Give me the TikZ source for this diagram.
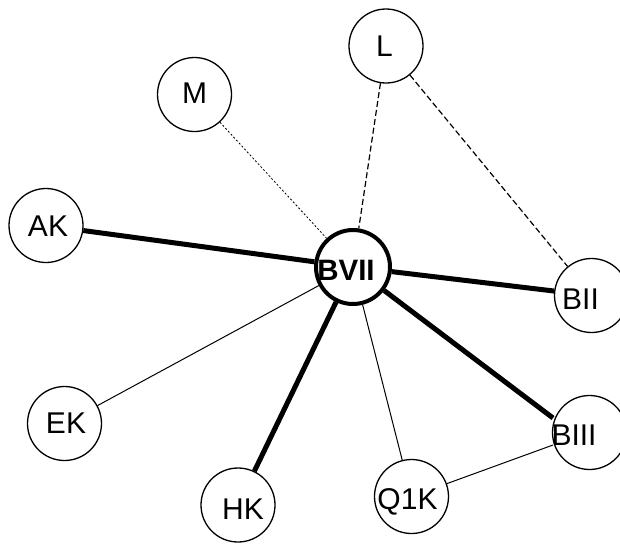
\documentclass[tikz,border=0pt]{standalone}
\usepackage{fontspec}
\setmainfont{Liberation Sans}
\begin{document}
\begin{tikzpicture}[x=1pt,y=-1pt,
  vtx/.style={circle,draw,line width=1.3pt,minimum size=74pt,inner sep=0pt},
  hub/.style={circle,draw,line width=4pt,minimum size=74pt,inner sep=0pt},
  lbl/.style={anchor=base,inner sep=0pt,font=\fontsize{30}{32}\selectfont},
  hublbl/.style={anchor=base,inner sep=0pt,font=\fontsize{29.5}{32}\selectfont\bfseries},
  heavy/.style={line width=5pt},
  light/.style={line width=1pt},
  dashedge/.style={line width=1.2pt,dash pattern=on 6pt off 3pt},
  dotedge/.style={line width=0.8pt,dash pattern=on 2pt off 2pt}]
\useasboundingbox (0,0) rectangle (620,544);
\clip (0,0) rectangle (620,544);
% vertices
\node[hub] (BVII) at (353,267) {};
\node[vtx] (L) at (386,46) {};
\node[vtx] (M) at (194.5,94.5) {};
\node[vtx] (AK) at (46,225.5) {};
\node[vtx] (EK) at (64.5,423.5) {};
\node[vtx] (BII) at (591.5,295.5) {};
\node[vtx] (BIII) at (589.5,432.5) {};
\node[vtx] (HK) at (238,505) {};
\node[vtx] (Q1K) at (411.5,496.5) {};
% labels
\node[hublbl] (tBVII) at (346,280.5) {BVII};
\node[lbl] (tL) at (384.5,56.5) {L};
\node[lbl] (tM) at (194.5,103.5) {M};
\node[lbl] (tAK) at (48,236.5) {AK};
\node[lbl] (tEK) at (66,433.5) {EK};
\node[lbl] (tBII) at (580.5,309) {BII};
\node[lbl] (tBIII) at (574,445) {BIII};
\node[lbl] (tHK) at (243,519.5) {HK};
\node[lbl] (tQ1K) at (407.5,509) {Q1K};
% edge end points inside BIII
\coordinate (b3a) at (553,418);
\coordinate (b3b) at (553,445);
% edges
\draw[heavy] (AK) -- (BVII);
\draw[heavy] (BVII) -- (BII);
\draw[heavy] (BVII) -- (b3a);
\draw[heavy] (BVII) -- (HK);
\draw[light] (BVII) -- (EK);
\draw[light] (BVII) -- (Q1K);
\draw[light] (Q1K) -- (b3b);
\draw[dashedge] (L) -- (BVII);
\draw[dashedge] (L) -- (BII);
\draw[dotedge] (M) -- (BVII);
\end{tikzpicture}
\end{document}
